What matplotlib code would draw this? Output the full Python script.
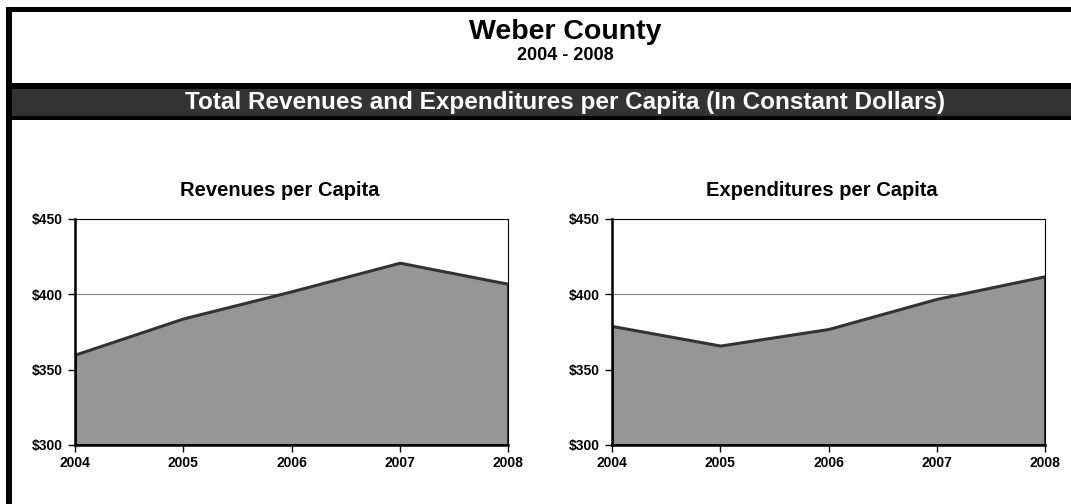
import matplotlib
matplotlib.use('Agg')
import matplotlib.pyplot as plt
from matplotlib.patches import Rectangle

plt.rcParams['font.family'] = ['Liberation Sans', 'DejaVu Sans']
plt.rcParams['font.weight'] = 'bold'

years = ['2004', '2005', '2006', '2007', '2008']
revenues = [360, 384, 402, 421, 407]
expenditures = [379, 366, 377, 397, 412]
y_ticks = [300, 350, 400, 450]
y_labels = ['$300', '$350', '$400', '$450']

W, H = 1071, 504
fig = plt.figure(figsize=(W / 100, H / 100), dpi=100)


def px_rect(x0, y0, x1, y1, color):
    # rectangle in pixel coords (top-left origin)
    fig.patches.append(Rectangle((x0 / W, 1 - y1 / H), (x1 - x0) / W, (y1 - y0) / H,
                                 transform=fig.transFigure, facecolor=color,
                                 edgecolor='none', zorder=0))


# frame and header band
px_rect(6, 7, 12, H, 'black')
px_rect(6, 7, W, 12, 'black')
px_rect(12, 83, W, 120, 'black')
px_rect(12, 89, W, 116, '#333333')

cx = 565
fig.text(cx / W, 1 - 32 / H, 'Weber County', ha='center', va='center', fontsize=20.5, fontweight='bold')
fig.text(cx / W, 1 - 56 / H, '2004 - 2008', ha='center', va='center', fontsize=13, fontweight='bold')
fig.text(cx / W, 1 - 102 / H, 'Total Revenues and Expenditures per Capita (In Constant Dollars)',
         ha='center', va='center', fontsize=17.5, fontweight='bold', color='white')


def area_chart(x0, x1, values, title, title_x):
    y0, y1 = 219, 445
    ax = fig.add_axes([x0 / W, 1 - y1 / H, (x1 - x0) / W, (y1 - y0) / H])
    xs = range(len(years))
    ax.fill_between(xs, values, 300, facecolor='#969696', edgecolor='#333333',
                    linewidth=2.2, zorder=2)
    ax.set_xlim(0, len(years) - 1)
    ax.set_ylim(300, 450)
    ax.set_yticks(y_ticks)
    ax.set_yticklabels(y_labels)
    ax.set_xticks(list(xs))
    ax.set_xticklabels(years)
    ax.tick_params(axis='both', direction='out', length=5, width=1, labelsize=10, colors='black')
    ax.tick_params(axis='x', pad=3)
    ax.grid(axis='y', color='#808080', linewidth=0.8, zorder=1)
    ax.set_axisbelow(True)
    for s in ['left', 'bottom']:
        ax.spines[s].set_linewidth(1.8)
        ax.spines[s].set_zorder(3)
    for s in ['top', 'right']:
        ax.spines[s].set_linewidth(0.8)
    for lab in ax.get_xticklabels() + ax.get_yticklabels():
        lab.set_fontweight('bold')
    fig.text(title_x / W, 1 - 190 / H, title, ha='center', va='center', fontsize=14.5, fontweight='bold')
    return ax


area_chart(75, 508, revenues, 'Revenues per Capita', 280)
area_chart(612, 1045, expenditures, 'Expenditures per Capita', 822)

fig.savefig('out.png', dpi=100)
